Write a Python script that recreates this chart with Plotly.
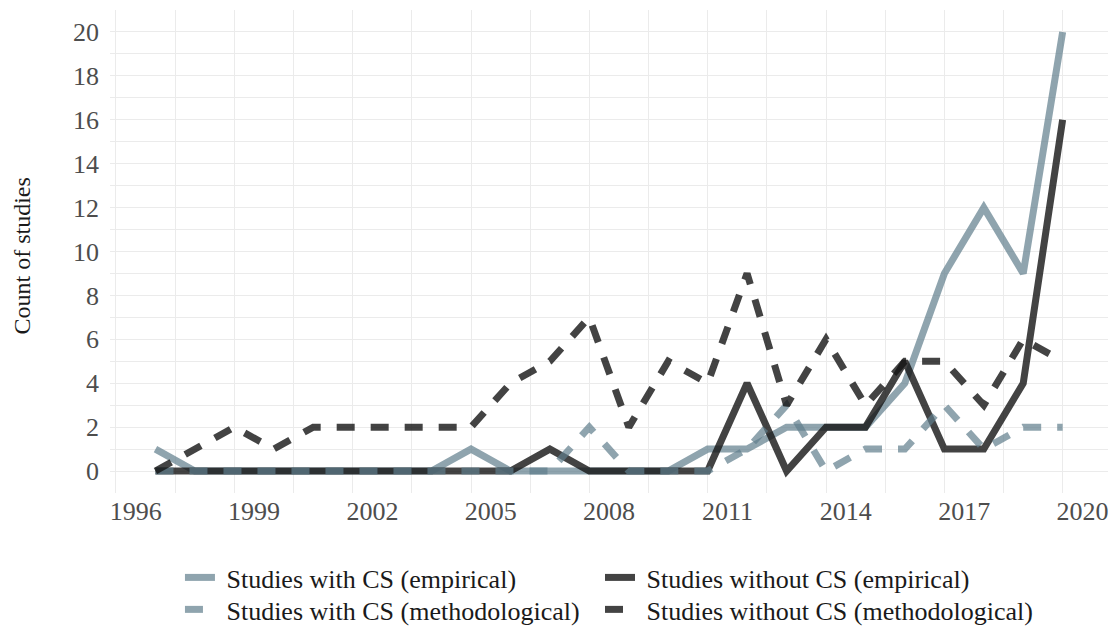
import plotly.graph_objects as go

years = list(range(1996, 2020))
with_cs_empirical = [1, 0, 0, 0, 0, 0, 0, 0, 1, 0, 0, 0, 0, 0, 1, 1, 2, 2, 2, 4, 9, 12, 9, 20]
without_cs_empirical = [0, 0, 0, 0, 0, 0, 0, 0, 0, 0, 1, 0, 0, 0, 0, 4, 0, 2, 2, 5, 1, 1, 4, 16]
with_cs_methodological = [0, 0, 0, 0, 0, 0, 0, 0, 0, 0, 0, 2, 0, 0, 0, 1, 3, 0, 1, 1, 3, 1, 2, 2]
without_cs_methodological = [0, 1, 2, 1, 2, 2, 2, 2, 2, 4, 5, 7, 2, 5, 4, 9, 3, 6, 3, 5, 5, 3, 6, 5]
tick_years = [1996, 1999, 2002, 2005, 2008, 2011, 2014, 2017, 2020]
y_ticks = list(range(0, 21, 2))

x_dates = [f"{y}-07-02" for y in years]

LIGHT = "rgba(96,125,139,0.7)"
DARK = "rgba(20,20,20,0.8)"
DASH = "18px,16px"
FONT = "Liberation Serif"

series = [
    ("Studies with CS (empirical)", with_cs_empirical, LIGHT, "solid", "legend"),
    ("Studies without CS (empirical)", without_cs_empirical, DARK, "solid", "legend2"),
    ("Studies with CS (methodological)", with_cs_methodological, LIGHT, DASH, "legend3"),
    ("Studies without CS (methodological)", without_cs_methodological, DARK, DASH, "legend4"),
]

fig = go.Figure()
for name, vals, col, dash, leg in series:
    fig.add_trace(go.Scatter(
        x=x_dates, y=vals, mode="lines", name=" " + name, legend=leg,
        showlegend=True,
        line=dict(color=col, width=7, dash=dash),
    ))

# vertical grid lines every 1.5 years
grid_x = []
for k in range(17):
    v = 1995.5 + 1.5 * k
    if v % 1:
        grid_x.append(f"{int(v)}-07-02")
    else:
        grid_x.append(f"{int(v)}-01-01")

legend_common = dict(
    orientation="v", xanchor="left", yanchor="top",
    font=dict(size=26, color="#1a1a1a", family=FONT),
    traceorder="normal", itemwidth=30, tracegroupgap=0,
    bgcolor="rgba(0,0,0,0)",
)
ROW1, ROW2 = -0.1263, -0.1925
COL1, COL2 = 0.0701, 0.491

fig.update_layout(
    width=1112, height=628,
    showlegend=True,
    margin=dict(l=110, r=4, t=10, b=135, autoexpand=False),
    plot_bgcolor="white", paper_bgcolor="white",
    font=dict(family=FONT, color="#4d4d4d"),
    xaxis=dict(
        type="date",
        range=["1995-05-08", "2020-08-25"],
        tickmode="array",
        tickvals=[f"{y}-01-01" for y in tick_years],
        ticktext=[str(y) for y in tick_years],
        showgrid=False, zeroline=False, showline=False,
        ticks="", ticklabelstandoff=0,
        tickfont=dict(size=26, color="#4d4d4d", family=FONT),
        minor=dict(tickmode="array", tickvals=grid_x, showgrid=True,
                   gridcolor="#ebebeb", gridwidth=1.4, ticks=""),
    ),
    yaxis=dict(
        range=[-1, 21],
        tickmode="array", tickvals=y_ticks,
        showgrid=True, gridcolor="#ebebeb", gridwidth=1.4,
        zeroline=False, showline=False, ticks="",
        ticklabelstandoff=10,
        tickfont=dict(size=26, color="#4d4d4d", family=FONT),
        minor=dict(dtick=1, showgrid=True, gridcolor="#ebebeb", gridwidth=1.4),
    ),
    legend=dict(x=COL1, y=ROW1, **legend_common),
    legend2=dict(x=COL2, y=ROW1, **legend_common),
    legend3=dict(x=COL1, y=ROW2, **legend_common),
    legend4=dict(x=COL2, y=ROW2, **legend_common),
    annotations=[dict(
        text="Count of studies", xref="paper", yref="paper",
        x=-0.088, y=0.49, xanchor="center", yanchor="middle",
        textangle=-90, showarrow=False,
        font=dict(size=24, color="#1a1a1a", family=FONT),
    )],
)

fig.write_html("out.html", config={"displayModeBar": False},
               post_script="document.body.style.margin='0px';")
